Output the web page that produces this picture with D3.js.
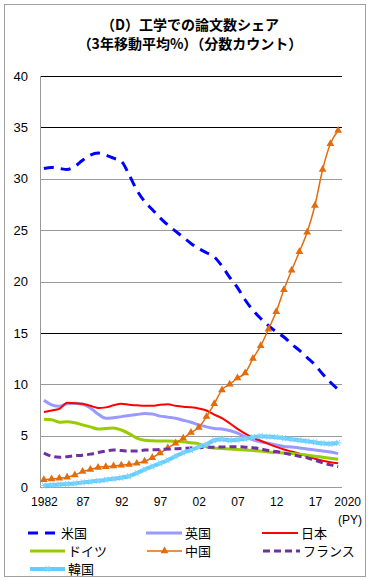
<!DOCTYPE html>
<html>
<head>
<meta charset="utf-8">
<script src="https://cdn.jsdelivr.net/npm/d3@7/dist/d3.min.js"></script>
<style>
  body { margin: 0; background: #fff; }
  .jp { font-family: "Noto Sans CJK JP", sans-serif; }
  .num { font-family: "Liberation Sans", Arial, sans-serif; }
</style>
</head>
<body>
<div id="body"></div>
<script>
// publication years (3-year moving average)
var years = [1982, 1983, 1984, 1985, 1986, 1987, 1988, 1989, 1990, 1991,
  1992, 1993, 1994, 1995, 1996, 1997, 1998, 1999, 2000, 2001,
  2002, 2003, 2004, 2005, 2006, 2007, 2008, 2009, 2010, 2011,
  2012, 2013, 2014, 2015, 2016, 2017, 2018, 2019, 2020];

var usa = [31.0, 31.1, 31.0, 30.9, 31.2, 31.8, 32.3, 32.5, 32.3, 32.0,
  31.7, 30.4, 28.9, 27.8, 27.0, 26.2, 25.5, 24.9, 24.3, 23.7,
  23.2, 22.8, 22.4, 21.5, 20.4, 19.4, 18.2, 17.2, 16.4, 15.7,
  15.1, 14.6, 13.9, 13.3, 12.6, 11.9, 11.0, 10.2, 9.5];
var uk = [8.45, 8.0, 7.85, 8.1, 8.15, 8.05, 7.7, 7.1, 6.7, 6.75,
  6.85, 6.95, 7.05, 7.15, 7.1, 6.9, 6.8, 6.7, 6.5, 6.3,
  6.05, 5.85, 5.7, 5.65, 5.5, 5.25, 4.9, 4.6, 4.4, 4.25,
  4.1, 3.95, 3.9, 3.8, 3.7, 3.6, 3.5, 3.4, 3.25];
var japan = [7.3, 7.45, 7.6, 8.2, 8.15, 8.1, 7.9, 7.7, 7.75, 7.95,
  8.1, 8.0, 7.95, 7.9, 7.9, 8.0, 8.05, 7.9, 7.8, 7.75,
  7.65, 7.45, 7.05, 6.7, 6.2, 5.65, 5.2, 4.8, 4.5, 4.2,
  3.9, 3.65, 3.45, 3.25, 3.0, 2.75, 2.55, 2.4, 2.3];
var germany = [6.6, 6.55, 6.3, 6.35, 6.25, 6.05, 5.85, 5.65, 5.7, 5.75,
  5.55, 5.2, 4.75, 4.55, 4.5, 4.48, 4.48, 4.45, 4.4, 4.3,
  4.2, 3.92, 3.8, 3.75, 3.7, 3.65, 3.6, 3.55, 3.5, 3.4,
  3.35, 3.3, 3.25, 3.2, 3.1, 3.0, 2.9, 2.8, 2.7];
var china = [0.7, 0.78, 0.85, 0.95, 1.17, 1.5, 1.7, 1.9, 1.98, 2.05,
  2.12, 2.2, 2.3, 2.5, 2.85, 3.3, 3.8, 4.25, 4.75, 5.3,
  5.8, 6.85, 8.1, 9.45, 10.0, 10.6, 11.1, 12.5, 13.75, 15.35,
  17.05, 19.2, 21.1, 22.9, 24.8, 27.4, 30.9, 33.4, 34.7];
var france = [3.3, 3.0, 2.9, 2.95, 3.05, 3.1, 3.2, 3.35, 3.5, 3.6,
  3.55, 3.5, 3.5, 3.6, 3.62, 3.65, 3.7, 3.72, 3.76, 3.8,
  3.84, 3.86, 3.88, 3.9, 3.92, 3.92, 3.88, 3.82, 3.7, 3.55,
  3.45, 3.3, 3.15, 3.0, 2.85, 2.6, 2.35, 2.15, 1.98];
var korea = [0.15, 0.2, 0.25, 0.3, 0.35, 0.45, 0.52, 0.6, 0.7, 0.8,
  0.9, 1.05, 1.35, 1.7, 2.0, 2.3, 2.6, 3.0, 3.35, 3.6,
  3.9, 4.15, 4.55, 4.65, 4.55, 4.6, 4.7, 4.85, 4.95, 4.9,
  4.85, 4.75, 4.65, 4.55, 4.45, 4.35, 4.25, 4.2, 4.3];

var seriesNames = ["米国", "英国", "日本", "ドイツ", "中国", "フランス", "韓国"];
var yTicks = [0, 5, 10, 15, 20, 25, 30, 35, 40];
var xTickYears = [1982, 1987, 1992, 1997, 2002, 2007, 2012, 2017, 2020];
var xTickLabels = ["1982", "87", "92", "97", "02", "07", "12", "17", "2020"];

var series = [
  {name: seriesNames[0], values: usa, color: "#0000ff", width: 3, dash: "10,7"},
  {name: seriesNames[1], values: uk, color: "#9999ff", width: 3, dash: null},
  {name: seriesNames[2], values: japan, color: "#ff0000", width: 2, dash: null},
  {name: seriesNames[3], values: germany, color: "#99cc00", width: 3, dash: null},
  {name: seriesNames[4], values: china, color: "#e46c0a", width: 1.5, dash: null, marker: "tri"},
  {name: seriesNames[5], values: france, color: "#7030a0", width: 3, dash: "7,4"},
  {name: seriesNames[6], values: korea, color: "#66ccff", width: 4, dash: null, marker: "star"}
];

var margin = {top: 76, right: 28, bottom: 93, left: 40},
  width = 370 - margin.left - margin.right,
  height = 580 - margin.top - margin.bottom;

var root = d3.select("#body")
  .append("svg")
  .attr("width", 370)
  .attr("height", 580);

// outer frame
root.append("rect")
  .attr("x", 4.5).attr("y", 4.5)
  .attr("width", 361).attr("height", 572)
  .attr("fill", "#fff")
  .attr("stroke", "#a0a0a0");

// title
root.append("text")
  .attr("class", "jp")
  .attr("x", 190).attr("y", 30)
  .attr("text-anchor", "middle")
  .attr("font-size", 14).attr("font-weight", "bold")
  .text("（D）工学での論文数シェア");
root.append("text")
  .attr("class", "jp")
  .attr("x", 190).attr("y", 49)
  .attr("text-anchor", "middle")
  .attr("font-size", 14).attr("font-weight", "bold")
  .text("（3年移動平均%）（分数カウント）");

var svg = root.append("g")
  .attr("transform", "translate(" + margin.left + "," + margin.top + ")");

var x = d3.scalePoint()
  .domain(years)
  .range([0, width])
  .padding(0.5);

var y = d3.scaleLinear()
  .domain([0, 40])
  .range([height, 0]);

// gridlines
svg.selectAll("line.grid")
  .data(yTicks)
  .enter().append("line")
  .attr("class", "grid")
  .attr("x1", 0).attr("x2", width)
  .attr("y1", function(d) { return Math.round(y(d)) + 0.5; })
  .attr("y2", function(d) { return Math.round(y(d)) + 0.5; })
  .attr("stroke", function(d) { return (d == 15 || d == 35 || d == 40) ? "#000" : "#9a9a9a"; })
  .attr("stroke-width", 1);

svg.append("line")
  .attr("x1", 0.5).attr("x2", 0.5)
  .attr("y1", 0).attr("y2", height)
  .attr("stroke", "#9a9a9a");

// y axis labels
var leftAxis = d3.axisLeft(y).tickValues(yTicks).tickSize(0).tickPadding(12);
var gy = svg.append("g").attr("class", "num").call(leftAxis);
gy.select(".domain").remove();
gy.selectAll("text").attr("font-size", 13).attr("fill", "#000");

// x axis labels
var bottomAxis = d3.axisBottom(x)
  .tickValues(xTickYears)
  .tickSize(0)
  .tickPadding(10)
  .tickFormat(function(d) { return xTickLabels[xTickYears.indexOf(d)]; });
var gx = svg.append("g")
  .attr("class", "num")
  .attr("transform", "translate(0," + height + ")")
  .call(bottomAxis);
gx.select(".domain").remove();
gx.selectAll("text").attr("font-size", 12).attr("fill", "#000")
  .attr("dx", function(d) { return d == 2020 ? 9 : 0; });

root.append("text")
  .attr("class", "num")
  .attr("x", 362).attr("y", 524)
  .attr("text-anchor", "end")
  .attr("font-size", 12)
  .text("(PY)");

var line = d3.line()
  .x(function(d, i) { return x(years[i]); })
  .y(function(d) { return y(d); })
  .curve(d3.curveMonotoneX);

var triangle = d3.symbol().type(d3.symbolTriangle).size(26);

function starPath(s) {
  return "M" + (-s) + ",0L" + s + ",0" +
    "M" + (-s / 2) + "," + (-s * 0.87) + "L" + (s / 2) + "," + (s * 0.87) +
    "M" + (-s / 2) + "," + (s * 0.87) + "L" + (s / 2) + "," + (-s * 0.87);
}

series.forEach(function(s) {
  svg.append("path")
    .datum(s.values)
    .attr("fill", "none")
    .attr("stroke", s.color)
    .attr("stroke-width", s.width)
    .attr("stroke-dasharray", s.dash)
    .attr("d", line);

  if (s.marker == "tri") {
    svg.selectAll("path.tri")
      .data(s.values)
      .enter().append("path")
      .attr("class", "tri")
      .attr("transform", function(d, i) { return "translate(" + x(years[i]) + "," + y(d) + ")"; })
      .attr("d", triangle)
      .attr("fill", s.color);
  }
  if (s.marker == "star") {
    svg.selectAll("path.star")
      .data(s.values)
      .enter().append("path")
      .attr("class", "star")
      .attr("transform", function(d, i) { return "translate(" + x(years[i]) + "," + y(d) + ")"; })
      .attr("d", starPath(3.5))
      .attr("stroke", "#7fd6ff")
      .attr("stroke-width", 1)
      .attr("fill", "none");
  }
});

// legend
var legendPos = [
  {x: 28, y: 533, len: 30}, {x: 146, y: 533, len: 36}, {x: 262, y: 533, len: 36},
  {x: 30, y: 551, len: 35}, {x: 147, y: 551, len: 35}, {x: 263, y: 551, len: 37},
  {x: 30, y: 569, len: 35}
];

series.forEach(function(s, i) {
  var p = legendPos[i];
  var g = root.append("g");
  g.append("line")
    .attr("x1", p.x).attr("x2", p.x + p.len)
    .attr("y1", p.y).attr("y2", p.y)
    .attr("stroke", s.color)
    .attr("stroke-width", s.width)
    .attr("stroke-dasharray", s.dash);
  if (s.marker == "tri") {
    g.append("path")
      .attr("transform", "translate(" + (p.x + p.len / 2) + "," + p.y + ")")
      .attr("d", triangle)
      .attr("fill", s.color);
  }
  if (s.marker == "star") {
    g.append("path")
      .attr("transform", "translate(" + (p.x + p.len / 2) + "," + p.y + ")")
      .attr("d", starPath(3.5))
      .attr("stroke", "#7fd6ff")
      .attr("fill", "none");
  }
  g.append("text")
    .attr("class", "jp")
    .attr("x", p.x + p.len + 3)
    .attr("y", p.y + 5)
    .attr("font-size", 13)
    .text(s.name);
});
</script>
</body>
</html>
